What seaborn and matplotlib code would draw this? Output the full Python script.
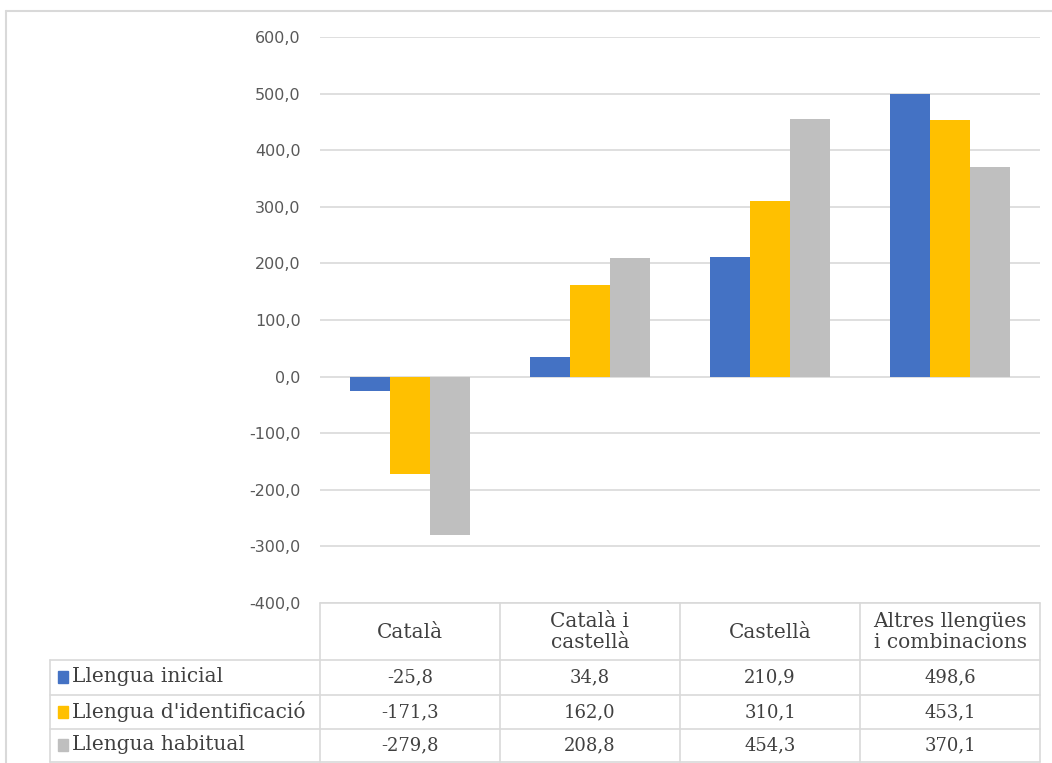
import matplotlib
matplotlib.use("Agg")
import matplotlib.pyplot as plt
import seaborn as sns
import pandas as pd
from matplotlib.lines import Line2D
from matplotlib.patches import Rectangle

categories = ["Català", "Català i\ncastellà", "Castellà", "Altres llengües\ni combinacions"]
series = ["Llengua inicial", "Llengua d'identificació", "Llengua habitual"]
inicial = [-25.8, 34.8, 210.9, 498.6]
identificacio = [-171.3, 162.0, 310.1, 453.1]
habitual = [-279.8, 208.8, 454.3, 370.1]
yticks = [-400, -300, -200, -100, 0, 100, 200, 300, 400, 500, 600]
colors = ["#4472C4", "#FFC000", "#BFBFBF"]

values = [inicial, identificacio, habitual]
rows = []
for s, vals in zip(series, values):
    for c, v in zip(categories, vals):
        rows.append({"cat": c, "series": s, "value": v})
df = pd.DataFrame(rows)

sns.set_theme(style="white")
plt.rcParams["font.family"] = ["DejaVu Sans"]

W, H = 1052, 763
fig = plt.figure(figsize=(W / 100, H / 100), dpi=100)
fig.patch.set_facecolor("white")

x0, x1, ytop, ybot = 320, 1040, 37, 603
ax = fig.add_axes([x0 / W, (H - ybot) / H, (x1 - x0) / W, (ybot - ytop) / H])
sns.barplot(data=df, x="cat", y="value", hue="series", order=categories,
            hue_order=series, palette=colors, width=0.667, gap=0, ax=ax,
            legend=False, saturation=1, zorder=3)
for p in ax.patches:
    p.set_edgecolor("none")
ax.set_ylim(-400, 600)
ax.set_xlim(-0.5, 3.5)
ax.set_yticks(yticks)
ax.set_yticklabels([f"{v:.1f}".replace(".", ",") for v in yticks], color="#595959", fontsize=11.5)
ax.tick_params(axis="y", length=0, pad=14)
ax.set_xticks([])
ax.set_xlabel("")
ax.set_ylabel("")
for sp in ax.spines.values():
    sp.set_visible(False)
ax.yaxis.grid(True, color="#D9D9D9", linewidth=1.2, zorder=0)
ax.set_axisbelow(True)
ax.set_facecolor("none")

# overlay for the data table
ov = fig.add_axes([0, 0, 1, 1], zorder=-1)
ov.set_xlim(0, W)
ov.set_ylim(H, 0)
ov.axis("off")
lc = "#D9D9D9"
# chart border
ov.add_line(Line2D([6, W], [11, 11], color=lc, lw=1.5))
ov.add_line(Line2D([6, 6], [11, H], color=lc, lw=1.5))

col_x = [320, 500, 680, 860, 1040]
for x in col_x:
    ov.add_line(Line2D([x, x], [603, 762], color=lc, lw=1.2))
ov.add_line(Line2D([50, 50], [660, 762], color=lc, lw=1.2))
ov.add_line(Line2D([320, 1040], [603, 603], color=lc, lw=1.2))
for y in [660, 695, 729, 762]:
    ov.add_line(Line2D([50, 1040], [y, y], color=lc, lw=1.2))

tfont = dict(family="DejaVu Serif", fontsize=14.5, color="#404040")
nfont = dict(family="DejaVu Serif", fontsize=13, color="#404040")
for i, c in enumerate(categories):
    cx = (col_x[i] + col_x[i + 1]) / 2
    ov.text(cx, 632, c, ha="center", va="center", linespacing=1.1, **tfont)
row_y = [677, 712, 745]
for j, (s, vals) in enumerate(zip(series, values)):
    ov.add_patch(Rectangle((58, row_y[j] - 6), 10, 12, color=colors[j]))
    ov.text(72, row_y[j], s, ha="left", va="center", **tfont)
    for i, v in enumerate(vals):
        cx = (col_x[i] + col_x[i + 1]) / 2
        ov.text(cx, row_y[j], f"{v:.1f}".replace(".", ","), ha="center", va="center", **nfont)

fig.savefig("out.png", dpi=100, facecolor="white")
